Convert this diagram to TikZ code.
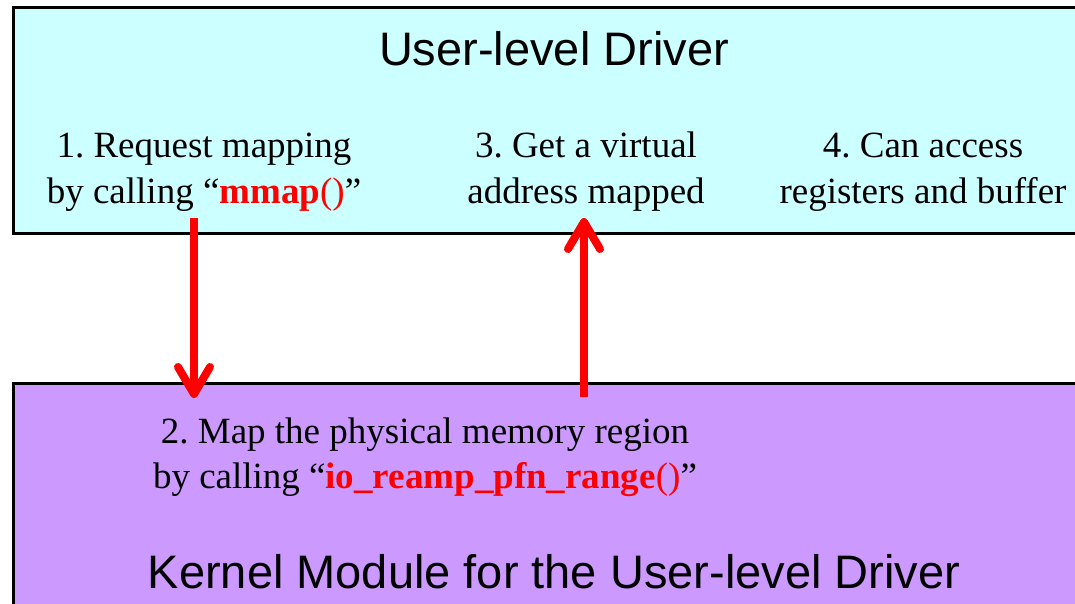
\documentclass[tikz,border=0pt]{standalone}
\usepackage{fontspec}
\setmainfont{Liberation Serif}
\newfontfamily\headfont{Liberation Sans}
\usetikzlibrary{arrows.meta}
\definecolor{userfill}{HTML}{CCFFFF}
\definecolor{kernfill}{HTML}{CC99FF}
\definecolor{callred}{HTML}{FF0000}
\frenchspacing
\newcommand{\callname}[1]{\textcolor{callred}{\textbf{#1}\textmd{()}}}
\begin{document}
\begin{tikzpicture}[x=1pt,y=-1pt,
  layer/.style={draw=black, line width=3pt, anchor=north west, inner sep=0pt, outer sep=0pt},
  lbl/.style={font=\fontsize{37}{45}\selectfont, align=center, anchor=base, inner sep=0pt},
  head/.style={font=\headfont\fontsize{47}{56}\selectfont, anchor=base, inner sep=0pt},
  flow/.style={draw=callred, line width=8pt, line cap=butt,
    -{Straight Barb[length=27pt, width=32pt, line cap=round, line join=round]}}]
\clip (0,0) rectangle (1075,604);
% the two layers
\node[layer, fill=userfill, minimum width=1100pt, minimum height=225pt] (user) at (13,8) {};
\node[layer, fill=kernfill, minimum width=1100pt, minimum height=260pt] (kern) at (13,383) {};
% titles
\node[head] (userTitle) at (554,66) {User-level Driver};
\node[head] (kernTitle) at (554,588) {Kernel Module for the User-level Driver};
% steps (anchored on the baseline of the second line)
\node[lbl] (s1) at (204,203) {1. Request mapping\\by calling “\callname{mmap}”};
\node[lbl] (s3) at (586,203) {3. Get a virtual\\address mapped};
\node[lbl] (s4) at (923,203) {4. Can access\\registers and buffer};
\node[lbl] (s2) at (425,488) {2. Map the physical memory region\\by calling “\callname{io\_reamp\_pfn\_range}”};
% request and reply arrows
\coordinate (reqStart) at (194,218);
\coordinate (reqEnd) at (194,398);
\coordinate (repStart) at (584,397);
\coordinate (repEnd) at (584,218);
\draw[flow] (reqStart) -- (reqEnd);
\draw[flow] (repStart) -- (repEnd);
\end{tikzpicture}
\end{document}
